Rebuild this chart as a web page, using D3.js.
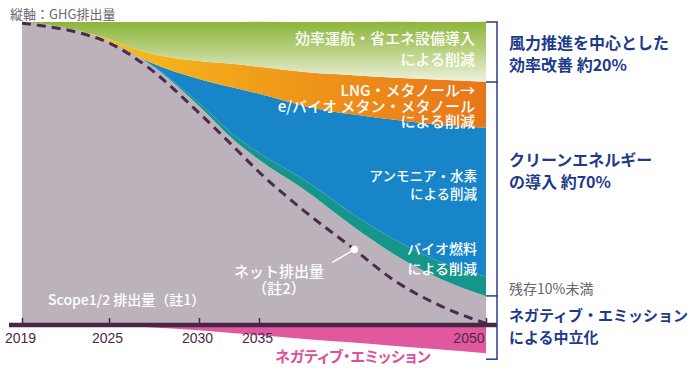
<!DOCTYPE html>
<html>
<head>
<meta charset="utf-8">
<script src="https://cdn.jsdelivr.net/npm/d3@7"></script>
<style>
body { margin: 0; background: #fff; }
svg { display: block; }
text { font-family: "Noto Sans CJK JP", "Noto Sans", sans-serif; }
</style>
</head>
<body>
<div id="chart"></div>
<script>
// 年（横軸）
const years = [2019, 2021, 2023, 2025, 2027, 2030, 2033, 2035, 2038, 2041, 2044, 2047, 2050];
const tickYears = [2019, 2025, 2030, 2035, 2050];

// 各削減の厚み（2019年の排出量 = 100）
const scope12     = [100, 99.0, 97.0, 93.7, 87.2, 72.3, 60.7, 54.5, 44.6, 33.3, 23.1, 15.2, 9.6];
const biofuel     = [0, 0, 0, 0, 0, 1.0, 1.7, 2.3, 3.3, 4.0, 5.0, 5.6, 6.3];
const ammoniaH2   = [0, 0, 0, 0, 0.3, 7.9, 15.8, 19.5, 24.4, 32.3, 39.6, 45.2, 49.2];
const lngMethanol = [0, 0, 0, 0.7, 2.6, 5.9, 7.9, 8.9, 11.2, 12.9, 13.9, 14.9, 15.2];
const efficiency  = [0, 1.0, 3.0, 5.6, 9.9, 12.9, 13.9, 14.9, 16.5, 17.5, 18.5, 19.1, 19.8];

// ネット排出量とネガティブ・エミッション
const netEmission      = [99.6, 98.3, 96.4, 93.1, 85.8, 70.0, 58.4, 50.5, 37.6, 26.1, 14.5, 6.3, 0.5];
const negativeEmission = [0, 0, 0, 0, 0.7, 1.7, 2.7, 3.3, 4.6, 5.7, 6.9, 8.1, 9.3];

const W = 700, H = 373;
const svg = d3.select('#chart').append('svg')
  .attr('width', W)
  .attr('height', H);

// 横軸は目盛り間隔が不均等
const x = d3.scaleLinear().domain(tickYears).range([22, 109, 199, 259, 486]);
const y = d3.scaleLinear().domain([0, 100]).range([325, 22]);

const defs = svg.append('defs');

const gGreen = defs.append('linearGradient')
  .attr('id', 'gGreen')
  .attr('gradientUnits', 'userSpaceOnUse')
  .attr('x1', 0).attr('y1', y(100)).attr('x2', 0).attr('y2', 84);
gGreen.append('stop').attr('offset', 0).attr('stop-color', '#8cb53c');
gGreen.append('stop').attr('offset', 0.45).attr('stop-color', '#b8d07f');
gGreen.append('stop').attr('offset', 1).attr('stop-color', '#f1f4e4');

const gOrange = defs.append('linearGradient')
  .attr('id', 'gOrange')
  .attr('gradientUnits', 'userSpaceOnUse')
  .attr('x1', x(2025)).attr('y1', 0).attr('x2', x(2050)).attr('y2', 0);
gOrange.append('stop').attr('offset', 0).attr('stop-color', '#f5bd1c');
gOrange.append('stop').attr('offset', 0.45).attr('stop-color', '#f09a1a');
gOrange.append('stop').attr('offset', 1).attr('stop-color', '#e8761a');

const keys = ['scope12', 'biofuel', 'ammoniaH2', 'lngMethanol', 'efficiency'];
const fills = {
  scope12: '#bcb2bc',
  biofuel: '#16968a',
  ammoniaH2: '#1785c8',
  lngMethanol: 'url(#gOrange)',
  efficiency: 'url(#gGreen)'
};

const rows = years.map((yr, i) => ({
  year: yr,
  scope12: scope12[i],
  biofuel: biofuel[i],
  ammoniaH2: ammoniaH2[i],
  lngMethanol: lngMethanol[i],
  efficiency: efficiency[i]
}));

const series = d3.stack().keys(keys)(rows);

const area = d3.area()
  .x(d => x(d.data.year))
  .y0(d => y(d[0]))
  .y1(d => y(d[1]))
  .curve(d3.curveMonotoneX);

svg.append('g').selectAll('path')
  .data(series)
  .join('path')
  .attr('d', area)
  .attr('fill', d => fills[d.key]);

// ネガティブ・エミッション（横軸より下）
const negArea = d3.area()
  .x((d, i) => x(years[i]))
  .y0(y(0))
  .y1(d => y(-d))
  .curve(d3.curveMonotoneX);

svg.append('path')
  .attr('d', negArea(negativeEmission))
  .attr('fill', '#e2589f');

// ネット排出量（破線）
const netLine = d3.line()
  .x((d, i) => x(years[i]))
  .y(d => y(d))
  .curve(d3.curveMonotoneX);

const netPath = svg.append('path')
  .attr('d', netLine(netEmission))
  .attr('fill', 'none')
  .attr('stroke', '#4b2a4a')
  .attr('stroke-width', 3)
  .attr('stroke-dasharray', '9,6');

// 横軸
svg.append('line')
  .attr('x1', 9).attr('x2', 497)
  .attr('y1', y(0)).attr('y2', y(0))
  .attr('stroke', '#4a2545')
  .attr('stroke-width', 4.5);

const axis = svg.append('g')
  .attr('transform', `translate(0,${y(0)})`)
  .call(d3.axisBottom(x).tickValues(tickYears).tickFormat(d3.format('d')).tickSize(-7).tickPadding(8));
axis.select('.domain').remove();
axis.selectAll('.tick line').attr('stroke', '#4a2545').attr('stroke-width', 1.5);
axis.selectAll('.tick text')
  .attr('fill', '#4a2a48')
  .style('font-family', '"Liberation Sans", Arial, sans-serif')
  .style('font-size', '14px')
  .attr('dx', -2)
  .attr('text-anchor', d => d === 2050 ? 'end' : 'middle')
  .attr('x', d => d === 2050 ? 0 : null);

// ネット排出量の注記（線上の点）
const node = netPath.node();
const markX = x(2041.3);
let lo = 0, hi = node.getTotalLength();
for (let k = 0; k < 30; k++) {
  const mid = (lo + hi) / 2;
  if (node.getPointAtLength(mid).x < markX) lo = mid; else hi = mid;
}
const mark = node.getPointAtLength(lo);
svg.append('line')
  .attr('x1', mark.x).attr('y1', mark.y)
  .attr('x2', mark.x - 22).attr('y2', mark.y + 13)
  .attr('stroke', '#fff').attr('stroke-width', 1.5);
svg.append('circle')
  .attr('cx', mark.x).attr('cy', mark.y).attr('r', 3.8)
  .attr('fill', '#fff');

// 図中ラベル
function label(lines, xx, yy, opts) {
  const t = svg.append('text')
    .attr('x', xx).attr('y', yy)
    .attr('text-anchor', opts.anchor || 'start')
    .attr('fill', opts.color)
    .style('font-size', opts.size + 'px')
    .style('font-weight', opts.weight || 400)
    .style('font-feature-settings', opts.palt ? '"palt"' : 'normal');
  lines.forEach((s, i) => {
    t.append('tspan').attr('x', xx).attr('dy', i === 0 ? 0 : opts.lh).text(s);
  });
}

label(['縦軸：GHG排出量'], 10, 19, { color: '#6a6570', size: 13 });

const white = { color: '#fff', size: 15, lh: 21, anchor: 'end', weight: 500 };
label(['効率運航・省エネ設備導入', 'による削減'], 475, 44, white);
label(['LNG・メタノール→', 'e/バイオ メタン・メタノール', 'による削減'], 475, 96, Object.assign({}, white, { lh: 15.5 }));
label(['アンモニア・水素', 'による削減'], 477, 181, Object.assign({}, white, { size: 13.5, lh: 18 }));
label(['バイオ燃料', 'による削減'], 477, 254, Object.assign({}, white, { size: 14, lh: 20 }));
label(['ネット排出量', '（註2）'], 279, 277, Object.assign({}, white, { anchor: 'middle', lh: 17 }));
label(['Scope1/2 排出量（註1）'], 48, 305, Object.assign({}, white, { anchor: 'start', size: 14 }));

label(['ネガティブ・エミッション'], 275, 362, { color: '#e0509a', size: 15, weight: 700, palt: true });

// 右側の括弧
const bx = 497;
const bracketYs = [y(100), y(100 - efficiency[12]), y(scope12[12]), y(-negativeEmission[12]) + 6];
svg.append('line')
  .attr('x1', bx).attr('x2', bx)
  .attr('y1', bracketYs[0]).attr('y2', bracketYs[3])
  .attr('stroke', '#2c3b8c').attr('stroke-width', 1.5);
svg.append('g').selectAll('line')
  .data(bracketYs)
  .join('line')
  .attr('x1', x(2050)).attr('x2', bx + 0.75)
  .attr('y1', d => d).attr('y2', d => d)
  .attr('stroke', '#2c3b8c').attr('stroke-width', 1.5);

const navy = { color: '#1e3a8a', size: 16, weight: 700, lh: 22 };
label(['風力推進を中心とした', '効率改善 約20%'], 509, 49, navy);
label(['クリーンエネルギー', 'の導入 約70%'], 509, 166, navy);
label(['残存10%未満'], 509, 294, { color: '#6a6570', size: 14 });
label(['ネガティブ・エミッション', 'による中立化'], 509, 321, Object.assign({}, navy, { size: 15 }));
</script>
</body>
</html>
